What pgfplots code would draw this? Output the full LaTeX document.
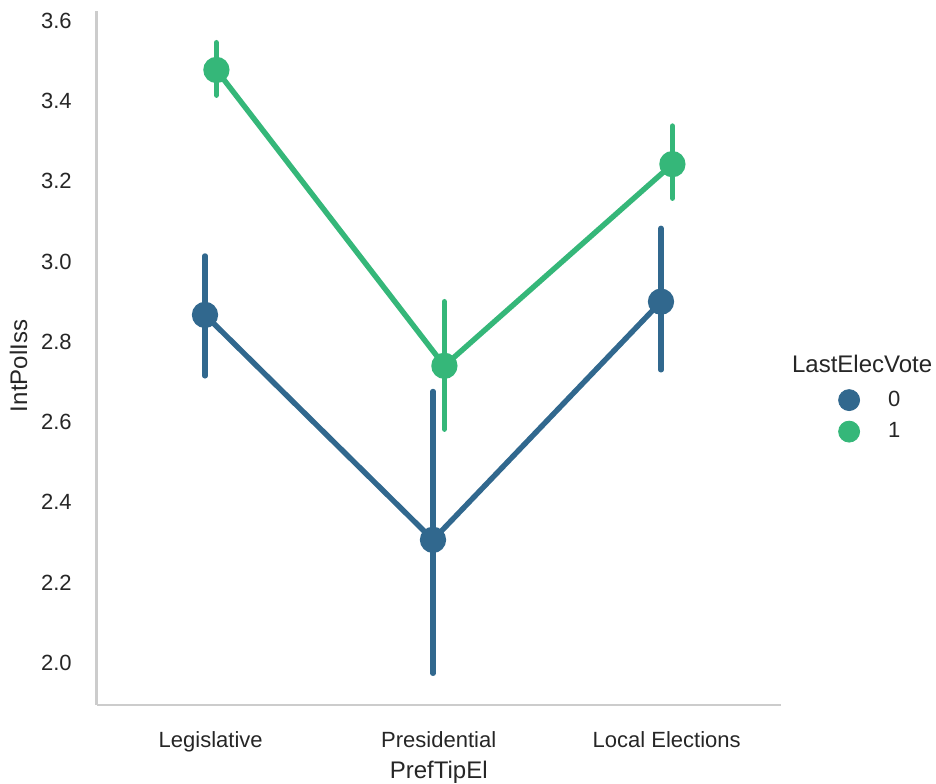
\documentclass[border=0pt]{standalone}
\usepackage{fontspec}
\setmainfont{Liberation Sans}
\usepackage{pgfplots}
\pgfplotsset{compat=1.18}
\usepackage{pgfplotstable}

\definecolor{vote0}{HTML}{31688E}
\definecolor{vote1}{HTML}{35B779}
\definecolor{spine}{HTML}{CCCCCC}
\definecolor{ink}{HTML}{262626}

% mean interest per preferred election type, with 95% CI bounds (plus / minus)
\pgfplotstableread{
x      y      ep     em
-0.025 2.867  0.147  0.152
0.975  2.306  0.370  0.333
1.975  2.900  0.183  0.170
}\votezero
\pgfplotstableread{
x      y      ep     em
0.025  3.478  0.068  0.063
1.025  2.740  0.160  0.158
2.025  3.243  0.095  0.085
}\voteone

\begin{document}
\begin{tikzpicture}
\begin{axis}[
  name=ax,
  scale only axis,
  width=342pt, height=347pt,
  xmin=-0.5, xmax=2.5,
  ymin=1.894, ymax=3.625,
  axis lines*=left,
  axis line style={draw=spine, line width=1.25pt, -},
  major tick length=0pt,
  xtick={0,1,2},
  xticklabels={Legislative, Presidential, Local Elections},
  ytick={2.0,2.2,...,3.61},
  /pgf/number format/assume math mode=true,
  yticklabel={\pgfmathprintnumber[fixed, fixed zerofill, precision=1]{\tick}},
  xticklabel style={font=\fontsize{11}{13}\selectfont, text=ink, anchor=base, inner sep=0pt, yshift=-21pt},
  yticklabel style={font=\fontsize{11}{13}\selectfont, text=ink, anchor=east, inner sep=0pt, xshift=-12.3pt},
  xlabel={PrefTipEl},
  ylabel={IntPolIss},
  xlabel style={font=\fontsize{12}{14}\selectfont, text=ink, inner sep=0pt, anchor=base, at={(axis description cs:0.5,-0.1052)}},
  ylabel style={font=\fontsize{12}{14}\selectfont, text=ink, inner sep=0pt, anchor=base, at={(axis description cs:-0.1019,0.4885)}},
  clip=false,
  legend cell align=left,
  legend style={
    at={(axis description cs:1.0835,0.4556)}, anchor=north west,
    draw=none, fill=none, inner sep=0pt, row sep=4.85pt,
    font=\fontsize{11}{13}\selectfont,
    nodes={inner sep=0pt, text=ink},
    /tikz/every odd column/.append style={column sep=14pt},
  },
]
\addplot[forget plot, color=vote0, line width=2.7pt, mark=*, mark size=5.2pt,
  mark options={draw=none, fill=vote0},
  error bars/.cd, y dir=both, y explicit, error mark=none,
  error bar style={line width=2.7pt, line cap=round, color=vote0}]
  table[x=x, y=y, y error plus=ep, y error minus=em] {\votezero};
\addplot[forget plot, color=vote1, line width=2.7pt, mark=*, mark size=5.2pt,
  mark options={draw=none, fill=vote1},
  error bars/.cd, y dir=both, y explicit, error mark=none,
  error bar style={line width=2.7pt, line cap=round, color=vote1}]
  table[x=x, y=y, y error plus=ep, y error minus=em] {\voteone};

\addlegendimage{legend image code/.code={\fill[vote0] (0pt,0pt) circle (5.25pt);}}
\addlegendentry{0}
\addlegendimage{legend image code/.code={\fill[vote1] (0pt,0pt) circle (5.25pt);}}
\addlegendentry{1}

\node[anchor=base west, inner sep=0pt, text=ink, font=\fontsize{12}{14}\selectfont]
  at (axis description cs:1.0161,0.4798) {LastElecVote};
\end{axis}
\pgfresetboundingbox
\path[use as bounding box] (ax.south west) ++(-48.35pt,-39pt) rectangle ++(468pt,391.5pt);
\end{tikzpicture}
\end{document}
